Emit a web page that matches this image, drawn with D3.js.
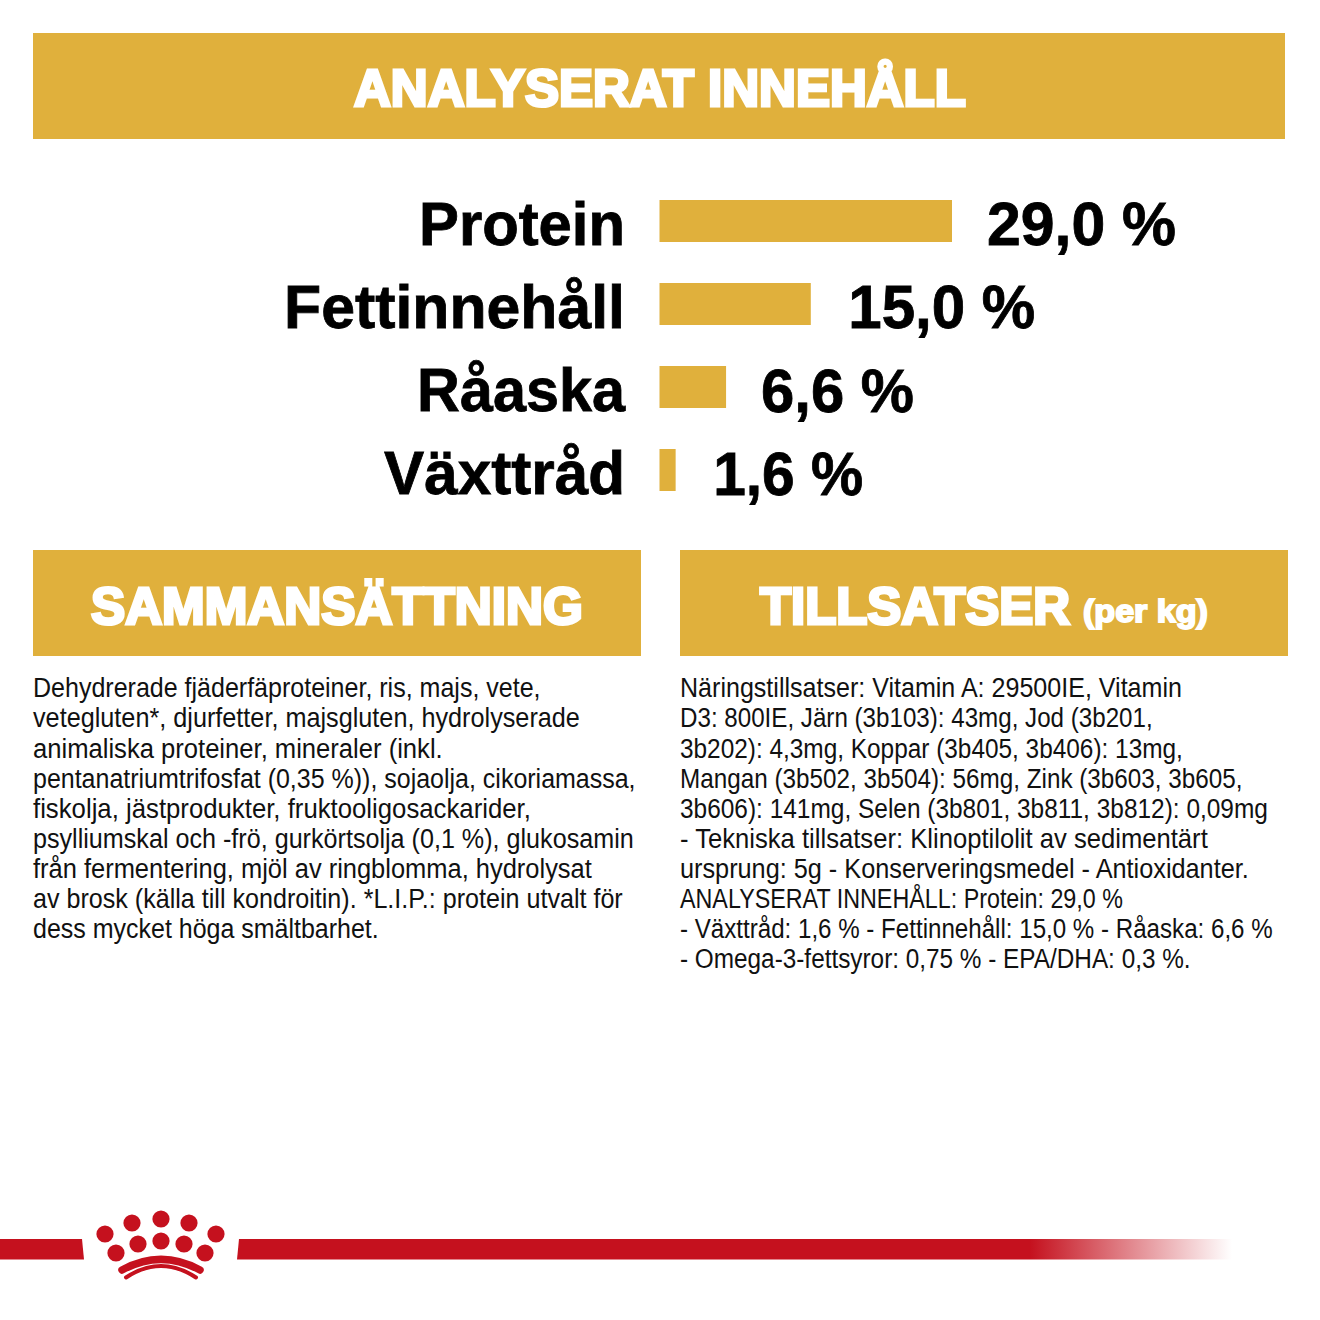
<!DOCTYPE html>
<html>
<head>
<meta charset="utf-8">
<script src="https://d3js.org/d3.v7.min.js"></script>
<style>
html, body { margin: 0; padding: 0; background: #fff; }
</style>
</head>
<body>
<div id="chart"></div>
<script>
const nutrients = ["Protein", "Fettinnehåll", "Råaska", "Växttråd"];
const nutrientValues = [29.0, 15.0, 6.6, 1.6];
const valueLabels = ["29,0 %", "15,0 %", "6,6 %", "1,6 %"];

const compositionLines = [
    "Dehydrerade fjäderfäproteiner, ris, majs, vete,",
    "vetegluten*, djurfetter, majsgluten, hydrolyserade",
    "animaliska proteiner, mineraler (inkl.",
    "pentanatriumtrifosfat (0,35 %)), sojaolja, cikoriamassa,",
    "fiskolja, jästprodukter, fruktooligosackarider,",
    "psylliumskal och -frö, gurkörtsolja (0,1 %), glukosamin",
    "från fermentering, mjöl av ringblomma, hydrolysat",
    "av brosk (källa till kondroitin). *L.I.P.: protein utvalt för",
    "dess mycket höga smältbarhet."
];
const additiveLines = [
    "Näringstillsatser: Vitamin A: 29500IE, Vitamin",
    "D3: 800IE, Järn (3b103): 43mg, Jod (3b201,",
    "3b202): 4,3mg, Koppar (3b405, 3b406): 13mg,",
    "Mangan (3b502, 3b504): 56mg, Zink (3b603, 3b605,",
    "3b606): 141mg, Selen (3b801, 3b811, 3b812): 0,09mg",
    "- Tekniska tillsatser: Klinoptilolit av sedimentärt",
    "ursprung: 5g - Konserveringsmedel - Antioxidanter.",
    "ANALYSERAT INNEHÅLL: Protein: 29,0 %",
    "- Växttråd: 1,6 % - Fettinnehåll: 15,0 % - Råaska: 6,6 %",
    "- Omega-3-fettsyror: 0,75 % - EPA/DHA: 0,3 %."
];

// measured text widths, the original font is not installed
const labelWidths = [206, 341, 208, 241];
const valueWidths = [189, 187, 153, 150];
const compositionWidths = [508, 547, 410, 603, 498, 601, 559, 590, 346];
const additiveWidths = [502, 473, 503, 563, 588, 528, 569, 443, 593, 511];

const width = 1320, height = 1320;
const gold = "#e0b03c", red = "#c5111e";
const bodyFont = "'Liberation Sans Narrow', 'Liberation Sans', sans-serif";
const headFont = "'Liberation Sans', sans-serif";

const svg = d3.select("#chart").append("svg")
    .attr("width", width)
    .attr("height", height)
    .style("display", "block");

// squeeze a text to its measured width
function fit(el, w) {
    const t = d3.select(el);
    const tx = +t.attr("x") || 0, ty = +t.attr("y") || 0;
    const sx = w / el.getComputedTextLength();
    t.attr("x", 0).attr("y", 0)
        .attr("transform", `translate(${tx},${ty}) scale(${sx},1)`);
}

// header panels
function panel(x, y, w, h) {
    svg.append("rect")
        .attr("x", x).attr("y", y)
        .attr("width", w).attr("height", h)
        .attr("fill", gold);
}
function heading(txt, x, y, size, len) {
    const t = svg.append("text")
        .attr("x", x).attr("y", y)
        .attr("font-family", headFont)
        .attr("font-weight", 700)
        .attr("font-size", size)
        .attr("fill", "#fff")
        .attr("stroke", "#fff")
        .attr("stroke-width", size * 0.06)
        .text(txt);
    fit(t.node(), len);
}
panel(33, 33, 1252, 106);
panel(33, 550, 608, 106);
panel(680, 550, 608, 106);
heading("ANALYSERAT INNEHÅLL", 354, 106, 51, 612);
heading("SAMMANSÄTTNING", 91, 624, 51, 492);
heading("TILLSATSER", 760, 624, 51, 310);
heading("(per kg)", 1083, 622, 31, 125);

// bars
const x = d3.scaleLinear().domain([0, 29]).range([659.5, 952]);
const y = d3.scaleBand().domain(nutrients).range([200, 491]).paddingInner(0.494);

svg.selectAll("rect.bar")
    .data(nutrients)
    .enter().append("rect")
    .attr("class", "bar")
    .attr("x", x(0))
    .attr("y", d => y(d))
    .attr("width", (d, i) => x(nutrientValues[i]) - x(0))
    .attr("height", y.bandwidth())
    .attr("fill", gold);

const yAxis = svg.append("g")
    .attr("transform", "translate(625, 0)")
    .call(d3.axisLeft(y).tickSize(0).tickPadding(0));
yAxis.select(".domain").remove();
yAxis.selectAll("text")
    .attr("dy", 24)
    .attr("font-family", bodyFont)
    .attr("font-weight", 700)
    .attr("font-size", 61)
    .attr("fill", "#000")
    .attr("stroke", "#000")
    .attr("stroke-width", 0.8)
    .each(function(d, i) { fit(this, labelWidths[i]); });

svg.selectAll("text.value")
    .data(nutrients)
    .enter().append("text")
    .attr("class", "value")
    .attr("x", (d, i) => x(nutrientValues[i]) + (i == 0 || i == 2 ? 35 : 37.5))
    .attr("y", d => y(d) + y.bandwidth() / 2 + 24.5)
    .attr("font-family", bodyFont)
    .attr("font-weight", 700)
    .attr("font-size", 61)
    .attr("fill", "#000")
    .attr("stroke", "#000")
    .attr("stroke-width", 0.8)
    .text((d, i) => valueLabels[i])
    .each(function(d, i) { fit(this, valueWidths[i]); });

// body text
function paragraph(lines, widths, left) {
    svg.selectAll(null)
        .data(lines)
        .enter().append("text")
        .attr("x", left)
        .attr("y", (d, i) => 697.3 + i * 30.12)
        .attr("font-family", bodyFont)
        .attr("font-size", 27)
        .attr("fill", "#111")
        .text(d => d)
        .each(function(d, i) { fit(this, widths[i]); });
}
paragraph(compositionLines, compositionWidths, 33);
paragraph(additiveLines, additiveWidths, 680);

// bottom band with fade
const fade = svg.append("defs").append("linearGradient")
    .attr("id", "fade")
    .attr("gradientUnits", "userSpaceOnUse")
    .attr("x1", 1030).attr("x2", 1232)
    .attr("y1", 0).attr("y2", 0);
fade.append("stop").attr("offset", 0).attr("stop-color", red);
fade.append("stop").attr("offset", 1).attr("stop-color", red).attr("stop-opacity", 0);

svg.append("path").attr("d", "M0,1239H82L84,1259.5H0Z").attr("fill", red);
svg.append("path").attr("d", "M239,1239H1232V1259.5H237Z").attr("fill", "url(#fade)");

// crown logo
const crownDots = [
    [105, 1234], [132, 1223], [161, 1219], [189, 1223], [216, 1234],
    [116, 1253], [138, 1244], [161, 1241], [184, 1244], [205, 1253]
];
svg.selectAll("circle.crown")
    .data(crownDots)
    .enter().append("circle")
    .attr("class", "crown")
    .attr("cx", d => d[0])
    .attr("cy", d => d[1])
    .attr("r", 8.6)
    .attr("fill", red);
svg.append("path")
    .attr("d", "M122,1270Q161,1248.7 200,1270")
    .attr("fill", "none").attr("stroke", red)
    .attr("stroke-width", 7.5).attr("stroke-linecap", "round");
svg.append("path")
    .attr("d", "M126,1277.5Q161,1254.5 196,1277.5")
    .attr("fill", "none").attr("stroke", red)
    .attr("stroke-width", 4).attr("stroke-linecap", "round");
</script>
</body>
</html>
